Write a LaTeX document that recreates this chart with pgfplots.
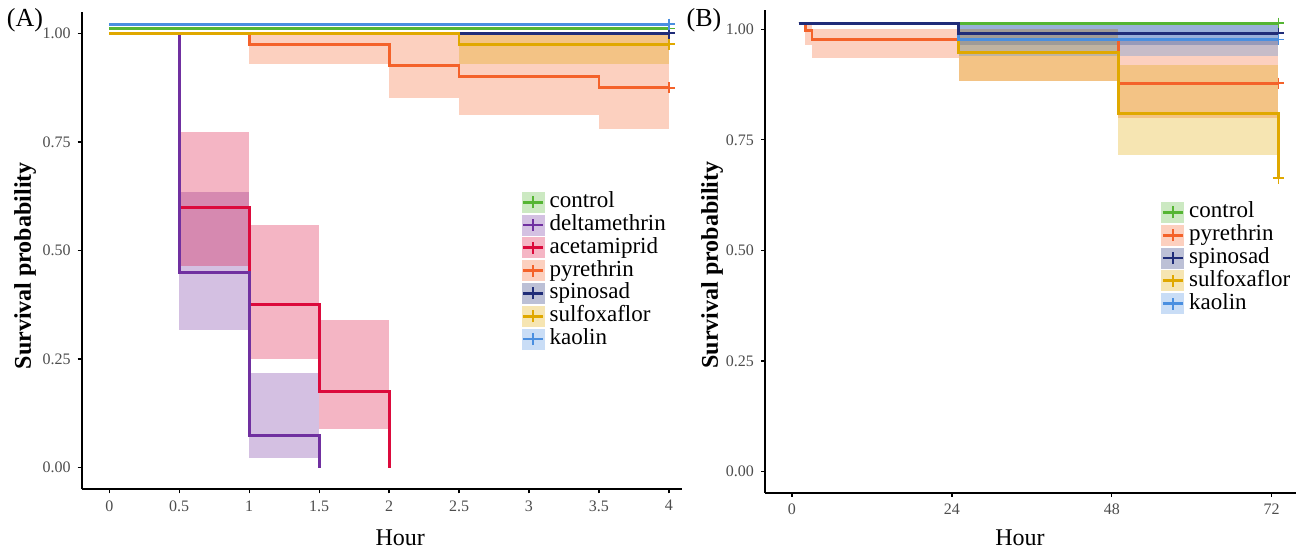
\documentclass[border=0pt]{standalone}
\usepackage{fontspec}
\setmainfont{Liberation Serif}
\usepackage{pgfplots}
\pgfplotsset{compat=1.18}
\definecolor{cCon}{HTML}{55B533}
\definecolor{cDel}{HTML}{7030A0}
\definecolor{cAce}{HTML}{DC0A3C}
\definecolor{cPyr}{HTML}{F4622A}
\definecolor{cSpi}{HTML}{1F2C78}
\definecolor{cSul}{HTML}{E0A800}
\definecolor{cKao}{HTML}{4A8FE0}
\definecolor{tickgray}{HTML}{4D4D4D}
% confidence band segment: colour, x0, x1, lower, upper
\newcommand\band[5]{\addplot[draw=none, fill=#1, fill opacity=0.3, forget plot] coordinates {(#2,#4) (#3,#4) (#3,#5) (#2,#5)};}
\newcommand\curve[2]{\addplot[const plot, color=#1, line width=1.45pt, forget plot] coordinates {#2};}
\newcommand\censor[2]{\addplot[only marks, mark=+, color=#1, mark size=2.8pt, mark options={line width=0.9pt}, forget plot] coordinates {#2};}
\pgfplotsset{
  survleg/.style={legend image code/.code={%
    \fill[#1!30!white] (0pt,-5pt) rectangle (11pt,5pt);
    \draw[#1, line width=1.4pt] (0.5pt,0pt) -- (10.5pt,0pt);
    \draw[#1, line width=0.9pt] (5.5pt,-3pt) -- (5.5pt,3pt);}},
  kmbase/.style={
    scale only axis,
    axis x line*=bottom, axis y line*=left,
    axis line style={-, line width=1.1pt, black},
    tick align=outside, major tick length=2pt,
    tick style={black, line width=0.6pt},
    tick label style={font=\fontsize{8}{9}\selectfont, text=tickgray},
    /pgf/number format/assume math mode=true,
    yticklabel style={/pgf/number format/.cd, fixed, fixed zerofill, precision=2},
    ytick={0,0.25,0.5,0.75,1},
    ylabel={\bfseries Survival probability},
    xlabel={Hour},
    label style={font=\fontsize{12}{12}\selectfont},
    legend cell align=left,
    legend style={draw=none, fill=none, anchor=north west,
      font=\fontsize{11.5}{11.5}\selectfont, row sep=0pt, column sep=2.5pt,
      nodes={inner sep=0pt, text height=8.4pt, text depth=3pt}},
  }
}
\begin{document}
\begin{tikzpicture}
\useasboundingbox (0,0) rectangle (649pt,276pt);
\node[font=\fontsize{13}{13}\selectfont] at (12.5pt,266pt) {(A)};
\node[font=\fontsize{13}{13}\selectfont] at (352pt,266pt) {(B)};
% ---------------- Panel A ----------------
\begin{axis}[kmbase,
  at={(40.85pt,31.3pt)}, anchor=south west,
  width=299.9pt, height=238.9pt,
  xmin=-0.197, xmax=4.09, ymin=-0.05, ymax=1.05,
  xtick={0,0.5,1,1.5,2,2.5,3,3.5,4},
  xlabel style={at={(axis description cs:0.531,-0.1017)}, anchor=center},
  ylabel style={at={(axis description cs:-0.0945,0.468)}, anchor=center},
  legend style={at={(0.723,0.634)}},
]
% confidence bands
\band{cDel}{0.5}{1}{0.318}{0.634}
\band{cDel}{1}{1.5}{0.023}{0.219}
\band{cAce}{0.5}{1}{0.465}{0.773}
\band{cAce}{1}{1.5}{0.251}{0.558}
\band{cAce}{1.5}{2}{0.090}{0.341}
\band{cPyr}{1}{2}{0.930}{1.000}
\band{cPyr}{2}{2.5}{0.850}{1.000}
\band{cPyr}{2.5}{3.5}{0.813}{1.000}
\band{cPyr}{3.5}{4}{0.780}{1.000}
\band{cSul}{2.5}{4}{0.930}{1.000}
% survival curves
\curve{cCon}{(0,1.011) (4,1.011)}
\curve{cAce}{(0,1) (0.5,0.600) (1,0.375) (1.5,0.175) (2,0)}
\curve{cDel}{(0,1) (0.5,0.450) (1,0.075) (1.5,0)}
\curve{cPyr}{(0,1) (1,0.975) (2,0.925) (2.5,0.900) (3.5,0.875) (4,0.875)}
\curve{cSpi}{(0,1) (4,1)}
\curve{cSul}{(0,1) (2.5,0.975) (4,0.975)}
\curve{cKao}{(0,1.021) (4,1.021)}
\censor{cCon}{(4,1.011)}
\censor{cPyr}{(4,0.875)}
\censor{cSpi}{(4,1)}
\censor{cSul}{(4,0.975)}
\censor{cKao}{(4,1.021)}
\addlegendimage{survleg=cCon}\addlegendentry{control}
\addlegendimage{survleg=cDel}\addlegendentry{deltamethrin}
\addlegendimage{survleg=cAce}\addlegendentry{acetamiprid}
\addlegendimage{survleg=cPyr}\addlegendentry{pyrethrin}
\addlegendimage{survleg=cSpi}\addlegendentry{spinosad}
\addlegendimage{survleg=cSul}\addlegendentry{sulfoxaflor}
\addlegendimage{survleg=cKao}\addlegendentry{kaolin}
\end{axis}
% ---------------- Panel B ----------------
\begin{axis}[kmbase,
  at={(382.5pt,29.65pt)}, anchor=south west,
  width=265.7pt, height=241.45pt,
  xmin=-4.05, xmax=75.7, ymin=-0.0475, ymax=1.044,
  xtick={0,24,48,72},
  xlabel style={at={(axis description cs:0.48,-0.0938)}, anchor=center},
  ylabel style={at={(axis description cs:-0.0997,0.4715)}, anchor=center},
  legend style={at={(0.734,0.613)}},
]
% confidence bands
\band{cPyr}{2}{3}{0.965}{1.010}
\band{cPyr}{3}{25}{0.935}{1.000}
\band{cPyr}{25}{49}{0.884}{1.000}
\band{cPyr}{49}{73}{0.800}{0.975}
\band{cSpi}{25}{73}{0.965}{1.010}
\band{cSul}{25}{49}{0.884}{1.000}
\band{cSul}{49}{73}{0.716}{0.919}
\band{cKao}{25}{73}{0.940}{1.010}
% survival curves
\curve{cCon}{(1,1.0135) (73,1.0135)}
\curve{cPyr}{(1,1.0135) (2,0.997) (3,0.977) (49,0.878) (73,0.878)}
\curve{cSul}{(1,1.0135) (25,0.947) (49,0.810) (73,0.664)}
\curve{cKao}{(1,1.0135) (25,0.977) (73,0.977)}
\curve{cSpi}{(1,1.0135) (25,0.991) (73,0.991)}
\censor{cCon}{(73,1.0135)}
\censor{cPyr}{(73,0.878)}
\censor{cSpi}{(73,0.991)}
\censor{cSul}{(73,0.664)}
\censor{cKao}{(73,0.977)}
\addlegendimage{survleg=cCon}\addlegendentry{control}
\addlegendimage{survleg=cPyr}\addlegendentry{pyrethrin}
\addlegendimage{survleg=cSpi}\addlegendentry{spinosad}
\addlegendimage{survleg=cSul}\addlegendentry{sulfoxaflor}
\addlegendimage{survleg=cKao}\addlegendentry{kaolin}
\end{axis}
\end{tikzpicture}
\end{document}
